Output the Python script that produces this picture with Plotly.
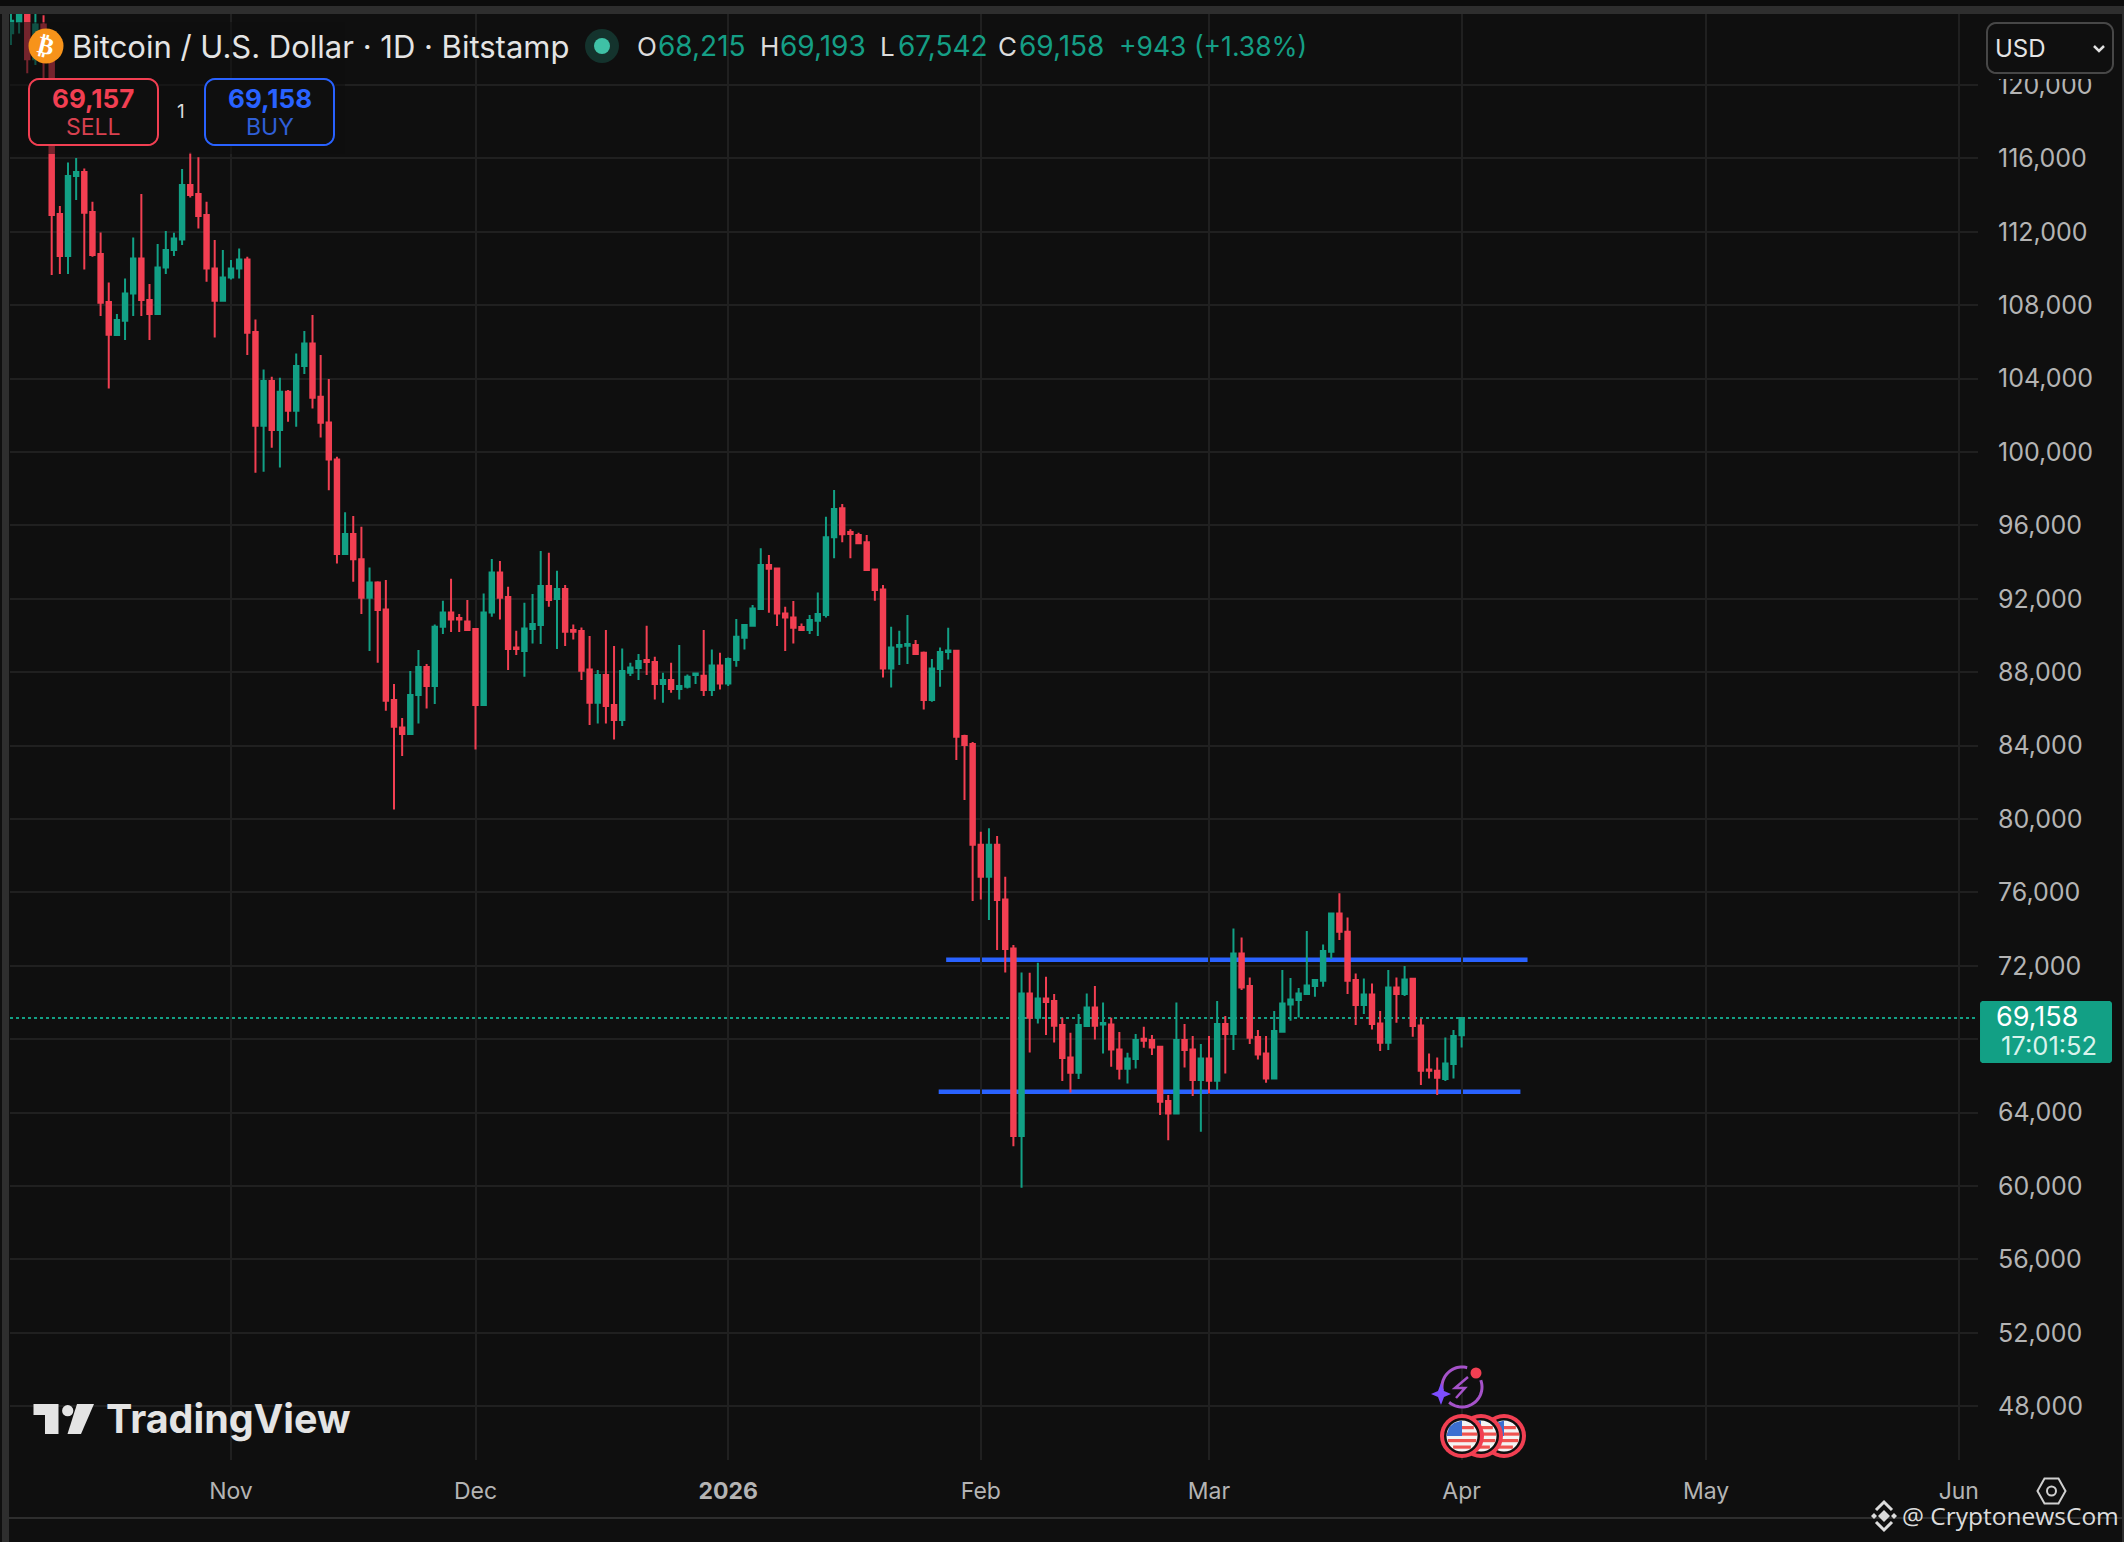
import math
import pandas as pd
import plotly.graph_objects as go

# ---------- data ----------
first_day = "2025-10-05"
last_day = "2026-04-01"

open_oct = [122815,123450,124700,121400,123300,121700,112967,110677,115038,115256,113076,110786,108170,106371,107153,108642,110550,108279,107516,110060,111005,111586,114548,114057,112912,110005,108243]
open_nov = [109515,110005,110496,106535,101430,103864,101193,103282,102247,104681,105917,103010,101611,99594,94439,95529,94149,92059,92895,91423,86481,84991,84627,86753,88280,87244,90478,91260,90951,90769]
open_dec = [90351,86208,91260,93440,92095,89352,89152,90351,90569,92695,91986,92532,90296,90242,88153,86335,87844,86208,85391,87971,88225,88662,88552,87353,87571,87080,87208,87844,87807,87026,88371]
open_jan = [87389,88662,89879,90533,91441,93840,93658,91205,90987,90460,90296,90805,91114,95348,96929,95639,95475,95075,93603,92513,88207,89388,89443,89479,89061,86481,88171,89097,89170,84518,84082]
open_feb = [78599,76854,78599,75619,72948,62718,70495,69168,70222,70077,68769,67006,66170,68714,69732,68805,68805,67442,66388,66915,68024,67951,67588,64626,63953,67951,67442,65771]
open_mar = [66952,65735,68823,68278,72676,70895,68115,67225,65862,68406,69895,70132,70459,70895,71186,72767,74856,73857,71222,69859,70441,68860,67806,70822,70459,71295,68751,66352,66280,65825,66643]
open_apr = [68215]

high_oct = [125500,126200,125100,124200,123800,122500,113403,115783,116019,115456,113639,111967,109242,107516,109460,111695,114057,109151,111332,112040,111950,115420,116310,116056,113639,111550,111005]
high_nov = [110459,111096,110641,107226,104500,104100,104045,103373,105372,106589,107462,105281,103973,99740,96710,96511,95929,93712,92950,93022,87353,85500,88062,89206,88443,90605,91895,93095,91169,91932]
high_dec = [90400,92295,94167,94058,92659,90260,91786,92259,94603,94512,93531,92750,90605,90442,89969,88116,90296,89424,89297,88516,88988,90533,88843,87971,88516,89479,87880,87971,90296,89243,89061]
high_jan = [88800,90896,90569,91659,94748,94385,93658,91568,91877,90660,91114,92350,96474,97928,97165,95784,95602,95475,93603,92750,90478,90260,91114,89751,89134,88716,89352,90424,89206,84591,84200]
high_feb = [79304,79500,79067,76854,73130,71640,71621,72166,71403,70459,69168,68351,69368,70495,70895,70004,69168,68387,67261,68278,68678,68224,67600,64953,70004,68823,68169,67733]
high_mar = [68169,70077,69259,74038,73548,71367,68497,68169,69532,71767,71331,70786,73893,71230,73166,74870,75951,74638,71586,71313,71040,69532,71767,71367,71985,71330,69132,67225,67007,68097,68497]
high_apr = [69193]

low_oct = [122179,122800,120635,121089,120300,109642,109696,109696,113730,109950,110640,107407,103464,106317,106099,107407,107407,106099,107461,109696,110677,111277,113875,112186,109278,106244,108188]
low_nov = [109406,109460,105281,98867,98921,100229,99158,101647,101375,104246,102374,100793,97922,93930,94439,92931,91169,89152,88516,85899,80521,83428,84573,85209,86027,86263,90079,90187,90187,90296]
low_dec = [83792,86154,91023,90878,88116,88934,87753,89570,89533,91568,89261,89424,89788,87571,85118,85209,85209,84337,85064,87789,87571,87844,86517,86335,86880,86517,87117,87353,86699,86699,87062]
low_jan = [87244,88298,89243,90533,91441,91241,90515,89152,89570,90260,90079,89970,90987,94203,95075,94203,95021,93567,91896,87716,87171,88389,88443,88988,85972,86390,87208,88698,83210,81030,75528]
low_feb = [75619,74492,72857,71640,62173,59902,67279,68860,68224,67824,65716,65098,65825,68678,67987,67224,66497,65807,65589,66406,67533,67133,63863,62500,63917,66461,64899,62954]
low_mar = [65044,65226,66134,67406,70677,67733,66898,65626,65826,68351,69005,69187,70404,70314,70859,72367,73403,70459,68769,69369,68533,67352,67406,68896,70350,68133,65498,65862,64953,65717,65862]
low_apr = [67542]

close_oct = [123500,124700,121400,123300,121700,112912,110677,115038,115256,113040,110732,108134,106389,107189,108642,110550,108279,107516,110060,111005,111641,114548,114003,112858,110005,108243,109515]
close_nov = [110005,110496,106498,101430,103864,101193,103282,102247,104681,105917,102955,101593,99594,94439,95529,94149,92059,92895,91387,86445,85027,84627,86753,88280,87244,90478,91260,90878,90878,90296]
close_dec = [86208,91260,93440,92059,89261,89261,90387,90624,92695,91932,92532,90206,90206,88080,86335,87844,86154,85391,88062,88262,88607,88552,87353,87571,87080,87244,87753,87935,87026,88371,87389]
close_jan = [88716,89933,90569,91477,93840,93640,91205,90987,90424,90296,90842,91169,95348,96892,95511,95529,95021,93567,92477,88207,89352,89479,89534,88988,86481,88207,89097,89188,84482,84028,78599]
close_feb = [76854,78599,75582,72911,62718,70495,69168,70222,70022,68732,66970,66170,68769,69732,68732,68878,67442,66388,66952,67951,67915,67551,64590,63953,67951,67406,65771,66952]
close_mar = [65735,68823,68278,72676,70822,68079,67170,65862,68442,69950,70168,70495,70931,71222,72803,74856,73857,71186,69859,70441,68824,67806,70822,70459,71258,68715,66280,66280,65898,66680,68170]
close_apr = [69158]

opens = open_oct + open_nov + open_dec + open_jan + open_feb + open_mar + open_apr
highs = high_oct + high_nov + high_dec + high_jan + high_feb + high_mar + high_apr
lows = low_oct + low_nov + low_dec + low_jan + low_feb + low_mar + low_apr
closes = close_oct + close_nov + close_dec + close_jan + close_feb + close_mar + close_apr
days = pd.date_range(first_day, last_day, freq="D")
assert len(days) == len(opens) == len(highs) == len(lows) == len(closes)

price_ticks = [48000,52000,56000,60000,64000,68000,72000,76000,80000,84000,88000,92000,96000,100000,104000,108000,112000,116000,120000]
# the 68,000 label is hidden behind the last-price tag in the reference
price_labels = ["" if p == 68000 else f"{p:,}" for p in price_ticks]
month_ticks = ["2025-11-01","2025-12-01","2026-01-01","2026-02-01","2026-03-01","2026-04-01","2026-05-01","2026-06-01"]
month_labels = ["Nov","Dec","<b>2026</b>","Feb","Mar","Apr","May","Jun"]

resistance = 72330
support = 65135
resistance_span = ["2026-01-27 18:00","2026-04-09 02:00"]
support_span = ["2026-01-26 20:00","2026-04-08 05:00"]
sell_price, buy_price = "69,157", "69,158"
countdown = "17:01:52"

# ---------- style / layout ----------
BG = "#0f0f0f"; GRID = "#202020"; BAND = "#2e2e2e"
GREEN = "#12a085"; RED = "#f23f52"; BLUE = "#2962ff"
W, H = 2124, 1542
L, R, T, B = 10, 1978, 14, 1460

def px(x): return (x - L) / (R - L)
def py(y): return 1 - (y - T) / (B - T)

shapes = []
def rect(x0, y0, x1, y1, fill, line=None, lw=0, opacity=None, layer="above"):
    s = dict(type="rect", xref="paper", yref="paper", x0=px(x0), x1=px(x1), y0=py(y0), y1=py(y1),
             fillcolor=fill, line=dict(color=line or fill, width=lw), layer=layer)
    if opacity is not None: s["opacity"] = opacity
    shapes.append(s)
def path(points, fill=None, line=None, lw=0, close=True):
    d = "M " + " L ".join(f"{px(a):.5f},{py(b):.5f}" for a, b in points) + (" Z" if close else "")
    shapes.append(dict(type="path", xref="paper", yref="paper", path=d, layer="above",
                       fillcolor=fill or "rgba(0,0,0,0)", line=dict(color=line or "rgba(0,0,0,0)", width=lw)))
def circle(cx, cy, r, fill, line=None, lw=0):
    shapes.append(dict(type="circle", xref="paper", yref="paper", x0=px(cx-r), x1=px(cx+r), y0=py(cy+r), y1=py(cy-r),
                       fillcolor=fill, line=dict(color=line or fill, width=lw), layer="above"))
def rrect(x0, y0, x1, y1, r, fill, line, lw):
    pts = []
    for cx, cy, a0 in [(x1-r, y0+r, -90), (x1-r, y1-r, 0), (x0+r, y1-r, 90), (x0+r, y0+r, 180)]:
        for k in range(7):
            a = math.radians(a0 + 15*k)
            pts.append((cx + r*math.cos(a), cy + r*math.sin(a)))
    path(pts, fill=fill, line=line, lw=lw)

annotations = []
def text(x, y, s, size, color, anchor="left", family="Inter", angle=0):
    annotations.append(dict(xref="paper", yref="paper", x=px(x), y=py(y), text=s, showarrow=False,
                            xanchor=anchor, yanchor="middle", align=anchor, textangle=angle,
                            font=dict(size=size, color=color, family=family)))

# level lines and last-price line sit below the candles
shapes.append(dict(type="line", xref="x", yref="y", x0=resistance_span[0], x1=resistance_span[1], y0=resistance, y1=resistance,
                   line=dict(color=BLUE, width=4.5), layer="below"))
shapes.append(dict(type="line", xref="x", yref="y", x0=support_span[0], x1=support_span[1], y0=support, y1=support,
                   line=dict(color=BLUE, width=4.5), layer="below"))
shapes.append(dict(type="line", xref="paper", yref="y", x0=0, x1=1, y0=closes[-1], y1=closes[-1],
                   line=dict(color=GREEN, width=2, dash="dot"), layer="below"))

# frame
rect(0, 0, W, 6, "#0c0c0c")
rect(0, 6, W, 14, BAND)
rect(2, 14, 9, 1542, BAND)
rect(2122, 14, W, 1542, BAND)
rect(9, 1517, 2122, 1519, BAND)
# dim layer under the legend
rect(10, 22, 345, 154, BG, opacity=0.55)
# mask and USD control
rect(1982, 14, 2122, 79, BG)
rrect(1987, 23, 2113, 73, 9, BG, "#474747", 2)
path([(2094, 46), (2099, 51), (2104, 46)], line="#e0e0e0", lw=2.5, close=False)
# last price label
rrect(1980, 1001, 2112, 1063, 3, GREEN, GREEN, 0)
# sell / buy boxes
rrect(29, 79, 158, 145, 10, BG, RED, 2)
rrect(205, 79, 334, 145, 10, BG, BLUE, 2)
# symbol icon and status dot
circle(46, 46, 17.5, "#f7931a")
circle(602, 46, 17, "#14332d")
circle(602, 46, 8, "#3fc1a6")
# TradingView logo
path([(33.5,1404),(58.5,1404),(58.5,1434),(45,1434),(45,1415),(33.5,1415)], fill="#e4e4e4")
circle(67.7, 1410.7, 5.6, "#e4e4e4")
path([(77,1404),(94,1404),(81,1434),(67.5,1434)], fill="#e4e4e4")
# event icons
def arc(cx, cy, r, a0, a1, n=24):
    return [(cx + r*math.cos(math.radians(a0 + (a1-a0)*k/n)), cy + r*math.sin(math.radians(a0 + (a1-a0)*k/n))) for k in range(n+1)]
path(arc(1462, 1387, 20, -20, 130), line="#a552c9", lw=3, close=False)
path(arc(1462, 1387, 20, 170, 285), line="#a552c9", lw=3, close=False)
path([(1468,1377),(1455,1388),(1465,1388),(1456,1398)], line="#a552c9", lw=2.5, close=False)
circle(1476, 1373, 5.5, RED)
path([(1441,1383),(1444,1391),(1451,1394),(1444,1397),(1441,1405),(1438,1397),(1431,1394),(1438,1391)], fill="#7d4dff")
def flag(cx, cy):
    circle(cx, cy, 22, RED)
    circle(cx, cy, 18, BG)
    circle(cx, cy, 15.5, "#f4f4f4")
    for k in [-10, -3.5, 3, 9.5]:
        h0, h1 = k, k + 3.2
        hw = math.sqrt(max(15.5**2 - max(abs(h0), abs(h1))**2, 0))
        rect(cx - hw, cy + h0, cx + hw, cy + h1, "#ef5350")
    path([(cx-13, cy-8.5), (cx-8, cy-13), (cx, cy-15.5), (cx, cy), (cx-15.5, cy)], fill="#3c6fd1")
for cxf in [1504, 1481, 1462]:
    flag(cxf, 1436)
# settings hexagon
path([(2037.5,1491),(2044.5,1478.5),(2058.5,1478.5),(2065.5,1491),(2058.5,1503.5),(2044.5,1503.5)], line="#cfcfcf", lw=2)
circle(2051.5, 1491, 4.5, BG, "#cfcfcf", 2)
# watermark diamond icon
WM = "#dcdcdc"
path([(1884,1510),(1890,1516),(1884,1522),(1878,1516)], fill=WM)
path([(1871,1516),(1874,1513),(1877,1516),(1874,1519)], fill=WM)
path([(1891,1516),(1894,1513),(1897,1516),(1894,1519)], fill=WM)
path([(1876,1510),(1884,1502),(1892,1510)], line=WM, lw=3, close=False)
path([(1876,1522),(1884,1530),(1892,1522)], line=WM, lw=3, close=False)

# texts
text(46, 46, "<b>₿</b>", 24, "#ffffff", "center", "DejaVu Sans", 14)
text(70, 46, "Bitcoin / U.S. Dollar · 1D · Bitstamp", 31, "#e4e4e4")
o_fmt, h_fmt, l_fmt, c_fmt = [f"{v:,}" for v in (opens[-1], highs[-1], lows[-1], closes[-1])]
change = closes[-1] - opens[-1]
pct = change / opens[-1] * 100
VAL = "#159e85"
for lx, label, vx, value in [(635, "O", 656, o_fmt), (758, "H", 778, h_fmt), (878, "L", 896, l_fmt), (996, "C", 1017, c_fmt)]:
    text(lx, 46, label, 26, "#dcdcdc")
    text(vx, 46, value, 28, VAL)
text(1117, 46, f"+{change:,} (+{pct:.2f}%)", 26.5, VAL)
text(93, 98, f"<b>{sell_price}</b>", 26, RED, "center")
text(93, 127, "SELL", 23, "#d8414f", "center")
text(181, 112, "1", 19, "#dcdcdc", "center")
text(269.5, 98, f"<b>{buy_price}</b>", 26, BLUE, "center")
text(269.5, 127, "BUY", 23, "#2f5fd8", "center")
text(1993, 48, "USD", 24, "#e4e4e4")
text(2037, 1016, f"{closes[-1]:,}", 27, "#ffffff", "center")
text(2049, 1045, countdown, 25.5, "#d9f3ec", "center")
text(104, 1419, "<b>TradingView</b>", 39.5, "#e4e4e4")
text(1900, 1515, "@ CryptonewsCom", 24.5, WM, "left", "Open Sans")

fig = go.Figure(go.Candlestick(
    x=days, open=opens, high=highs, low=lows, close=closes,
    increasing=dict(line=dict(color=GREEN, width=2), fillcolor=GREEN),
    decreasing=dict(line=dict(color=RED, width=2), fillcolor=RED),
    whiskerwidth=0, showlegend=False, hoverinfo="skip",
))

day0 = pd.Timestamp("2025-11-01")
x_lo = day0 + pd.Timedelta(days=(L - 231) / 8.15)
x_hi = day0 + pd.Timedelta(days=(R - 231) / 8.15)
y_per_px = 4000 / 73.4
y_hi = 120000 + (85 - T) * y_per_px
y_lo = 120000 - (B - 85) * y_per_px

fig.update_layout(
    width=W, height=H, autosize=False,
    margin=dict(l=L, r=W - R, t=T, b=H - B, pad=0),
    paper_bgcolor=BG, plot_bgcolor=BG,
    boxgap=0.22, showlegend=False,
    shapes=shapes, annotations=annotations,
    font=dict(family="Inter", color="#b4b4b4", size=23),
    xaxis=dict(type="date", range=[x_lo, x_hi], rangeslider=dict(visible=False),
               tickmode="array", tickvals=month_ticks, ticktext=month_labels,
               showgrid=True, gridcolor=GRID, gridwidth=1.5, zeroline=False, showline=False, ticks="",
               tickfont=dict(size=23, color="#b4b4b4", family="Inter"), ticklabelstandoff=15),
    yaxis=dict(side="right", range=[y_lo, y_hi], tickmode="array", tickvals=price_ticks, ticktext=price_labels,
               showgrid=True, gridcolor=GRID, gridwidth=1.5, zeroline=False, showline=False, ticks="",
               tickfont=dict(size=25, color="#b4b4b4", family="Inter"), ticklabelstandoff=19),
)

fig.write_html("out.html", config=dict(displayModeBar=False),
               post_script="document.body.style.margin='0';document.body.style.background='#0f0f0f';document.body.style.overflow='hidden';")
